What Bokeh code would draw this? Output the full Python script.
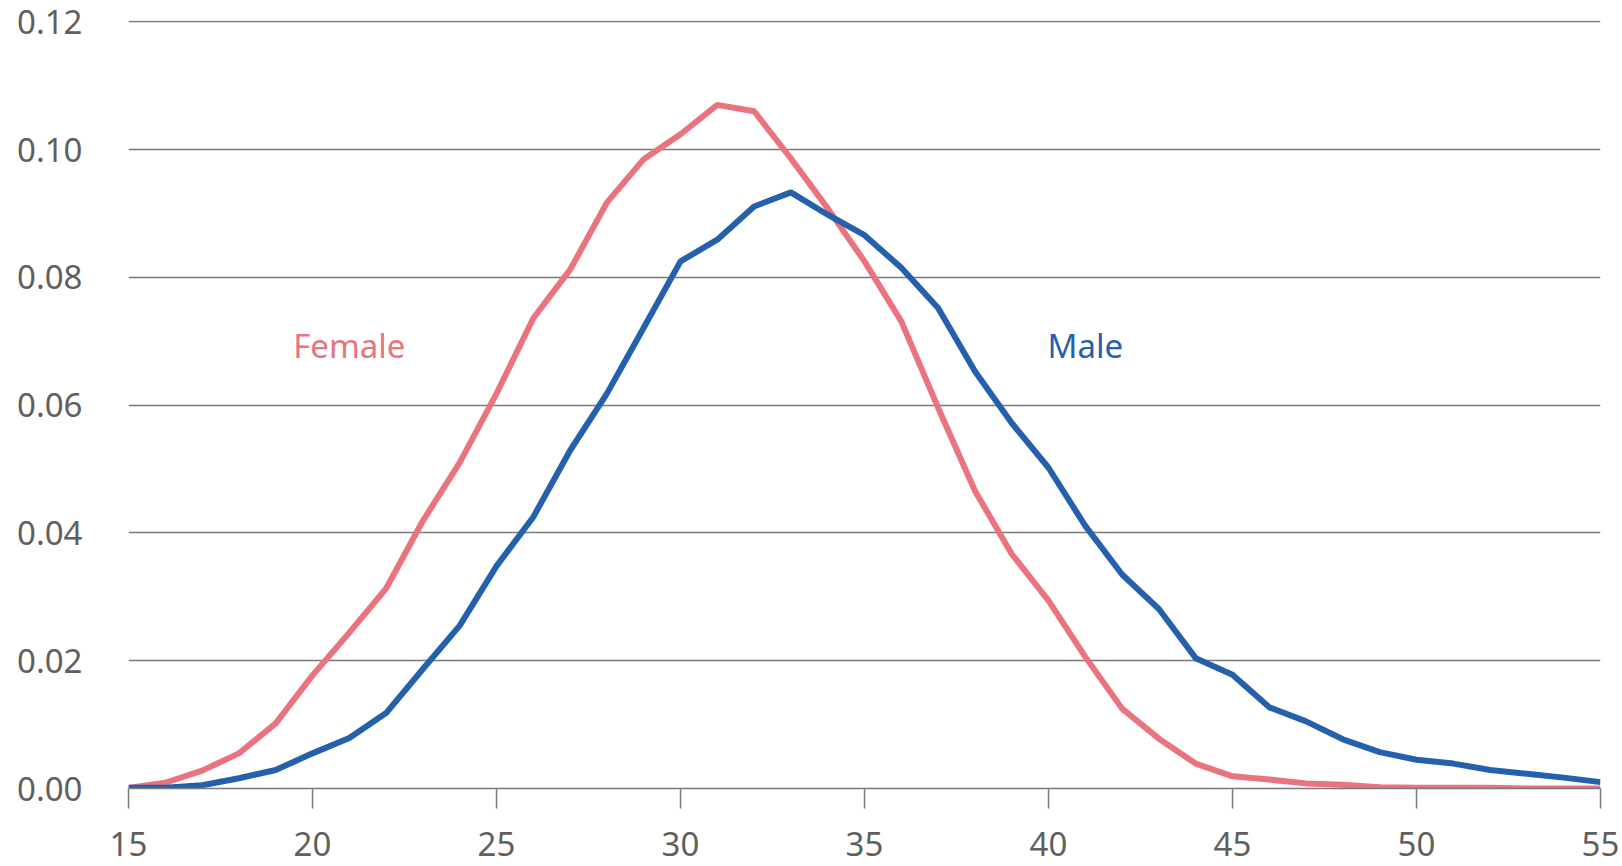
from bokeh.plotting import figure
from bokeh.models import Range1d, FixedTicker, Label, NumeralTickFormatter
from bokeh.embed import file_html
from bokeh.resources import INLINE

ages = list(range(15, 56))
female = [0.0001, 0.0009, 0.0028, 0.0055, 0.0102, 0.0177, 0.0244, 0.0313, 0.0419, 0.0510,
          0.0618, 0.0736, 0.0812, 0.0917, 0.0985, 0.1024, 0.1070, 0.1060, 0.0986, 0.0908,
          0.0825, 0.0731, 0.0596, 0.0466, 0.0367, 0.0294, 0.0206, 0.0125, 0.0078, 0.0039,
          0.0019, 0.0014, 0.0008, 0.0006, 0.0002, 0.0001, 0.0001, 0.0001, 0.0, 0.0, 0.0]
male = [0.0001, 0.0001, 0.0005, 0.0016, 0.0029, 0.0055, 0.0079, 0.0118, 0.0187, 0.0255,
        0.0348, 0.0425, 0.0529, 0.0618, 0.0721, 0.0825, 0.0859, 0.0911, 0.0933, 0.0898,
        0.0866, 0.0815, 0.0752, 0.0653, 0.0572, 0.0502, 0.0411, 0.0335, 0.0281, 0.0204,
        0.0178, 0.0127, 0.0105, 0.0077, 0.0057, 0.0045, 0.0039, 0.0029, 0.0023, 0.0017, 0.0010]
x_ticks = [15, 20, 25, 30, 35, 40, 45, 50, 55]
y_ticks = [0.0, 0.02, 0.04, 0.06, 0.08, 0.10, 0.12]
series_labels = ["Female", "Male"]
label_pos = [(21, 0.0694), (41, 0.0694)]

FEMALE_C = "#E9737E"
MALE_C = "#2560AD"
GRID_C = "#7a7a7a"
TEXT_C = "#5f5f5f"
FONT = "Noto Sans"
FS = "33px"

p = figure(width=1622, height=866, output_backend="svg", toolbar_location=None,
           x_range=Range1d(15, 55), y_range=Range1d(0, 0.1202),
           min_border_left=128, min_border_right=22, min_border_top=20, min_border_bottom=78)
p.outline_line_color = None
p.background_fill_color = "white"
p.border_fill_color = "white"

p.xgrid.visible = False
p.ygrid.ticker = FixedTicker(ticks=y_ticks)
p.ygrid.grid_line_color = GRID_C
p.ygrid.grid_line_width = 1.5

p.xaxis.ticker = FixedTicker(ticks=x_ticks)
p.xaxis.axis_line_color = GRID_C
p.xaxis.axis_line_width = 1.5
p.xaxis.major_tick_line_color = GRID_C
p.xaxis.major_tick_line_width = 1.5
p.xaxis.major_tick_in = 0
p.xaxis.major_tick_out = 20
p.xaxis.minor_tick_line_color = None
p.xaxis.major_label_standoff = 23
p.xaxis.major_label_text_font = FONT
p.xaxis.major_label_text_font_size = FS
p.xaxis.major_label_text_color = TEXT_C

p.yaxis.ticker = FixedTicker(ticks=y_ticks)
p.yaxis.formatter = NumeralTickFormatter(format="0.00")
p.yaxis.axis_line_color = None
p.yaxis.major_tick_line_color = None
p.yaxis.minor_tick_line_color = None
p.yaxis.major_label_standoff = 40
p.yaxis.major_label_text_font = FONT
p.yaxis.major_label_text_font_size = FS
p.yaxis.major_label_text_color = TEXT_C

p.line(ages, female, line_color=FEMALE_C, line_width=6)
p.line(ages, male, line_color=MALE_C, line_width=6)

for name, (lx, ly), col in zip(series_labels, label_pos, [FEMALE_C, MALE_C]):
    p.add_layout(Label(x=lx, y=ly, text=name, text_color=col, text_font=FONT,
                       text_font_size=FS, text_align="center", text_baseline="middle"))

open("out.html", "w").write(file_html(p, INLINE))
